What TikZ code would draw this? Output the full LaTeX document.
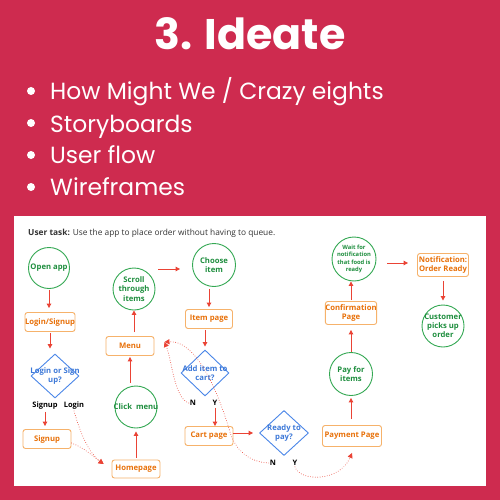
\documentclass[tikz,border=0pt]{standalone}
\usepackage{fontspec}
\setmainfont{Open Sans}
\newfontfamily\poppins{Poppins}
\usetikzlibrary{shapes.geometric,arrows.meta}

\definecolor{crimson}{HTML}{CE2B4F}
\definecolor{gborder}{HTML}{34A853}
\definecolor{gtext}{HTML}{1E8E3E}
\definecolor{oborder}{HTML}{F6B26B}
\definecolor{otext}{HTML}{E8710A}
\definecolor{bborder}{HTML}{4A86E8}
\definecolor{btext}{HTML}{3C78D8}
\definecolor{redline}{HTML}{EA4335}

\newcommand\flowfont{\bfseries\fontsize{7.7}{9.2}\selectfont}
\newcommand\smallflowfont{\bfseries\fontsize{5.8}{7.6}\selectfont}
\newcommand\tagfont{\bfseries\fontsize{7.5}{8}\selectfont}

\tikzset{
  circnode/.style={circle, draw=gborder, line width=0.9pt, inner sep=0pt},
  ctext/.style={text=gtext, font=\flowfont, align=center, inner sep=0pt},
  boxnode/.style={rectangle, rounded corners=2.5pt, draw=oborder, line width=0.9pt,
    text=otext, font=\flowfont, align=center, inner sep=0pt},
  dianode/.style={diamond, draw=bborder, line width=0.9pt, inner sep=0pt},
  dtext/.style={text=btext, font=\flowfont, align=center, inner sep=0pt},
  yn/.style={font=\tagfont, text=black, inner sep=1pt},
  arr/.style={draw=redline, line width=1pt, -{Triangle[length=4.5pt,width=4.5pt]}},
  dots/.style={draw=redline, line width=0.9pt, dash pattern=on 0.01pt off 2.4pt,
    line cap=round, -{Triangle[length=5pt,width=5pt]}},
  bullet/.style={circle, fill=white, minimum size=8pt, inner sep=0pt},
  bullettext/.style={anchor=base west, text=white, inner sep=0pt,
    font=\poppins\fontsize{23.4}{24}\selectfont}
}

\begin{document}
\begin{tikzpicture}[x=1pt,y=-1pt]
  % slide background
  \fill[crimson] (0,0) rectangle (500,500);
  \useasboundingbox (0,0) rectangle (500,500);

  % heading and bullet list
  \node[anchor=base, text=white, inner sep=0pt,
        font=\poppins\bfseries\fontsize{42.8}{43}\selectfont] (title) at (250,50) {3. Ideate};
  \node[bullet] (b1) at (31,91) {};
  \node[bullet] (b2) at (31,123) {};
  \node[bullet] (b3) at (31,155) {};
  \node[bullet] (b4) at (31,187) {};
  \node[bullettext] (t1) at (50,100) {How Might We / Crazy eights};
  \node[bullettext] (t2) at (50,132) {Storyboards};
  \node[bullettext] (t3) at (50,163) {User flow};
  \node[bullettext] (t4) at (50,195) {Wireframes};

  % user flow panel
  \fill[white] (14,216) rectangle (486,486);
  \node[anchor=base west, inner sep=0pt, text=black!80,
        font=\fontsize{8.35}{9}\selectfont] (task) at (28,235)
        {\textbf{User task:} Use the app to place order without having to queue.};

  % flow nodes
  \node[circnode, minimum size=41pt, label={[ctext]center:Open app}] (open) at (49,268) {};
  \node[boxnode, minimum width=47pt, minimum height=19pt] (login) at (50,322) {Login/Signup};
  \node[dianode, minimum width=48pt, minimum height=44pt,
        label={[dtext]center:Login or Sign\\up?}] (q1) at (55,376) {};
  \node[yn] (tsignup) at (45,406) {Signup};
  \node[yn] (tlogin) at (74,406) {Login};
  \node[boxnode, minimum width=48pt, minimum height=19pt] (signup) at (47,439) {Signup};
  \node[boxnode, minimum width=48pt, minimum height=18pt] (home) at (136,469) {Homepage};
  \node[circnode, minimum size=42pt, label={[ctext]center:Click\ \ menu}] (click) at (136,407) {};
  \node[boxnode, minimum width=48pt, minimum height=19pt] (menu) at (130,346) {Menu};
  \node[circnode, minimum size=42pt, label={[ctext]center:Scroll\\through\\items}] (scroll) at (134,289) {};
  \node[circnode, minimum size=43pt, label={[ctext]center:Choose\\item}] (choose) at (214,265) {};
  \node[boxnode, minimum width=47pt, minimum height=19pt] (item) at (209,319) {Item page};
  \node[dianode, minimum width=48pt, minimum height=46pt,
        label={[dtext]center:Add item to\\cart?}] (q2) at (205,373) {};
  \node[yn] (n2) at (193,403) {N};
  \node[yn] (y2) at (215,403) {Y};
  \node[boxnode, minimum width=48pt, minimum height=19pt] (cart) at (209,436) {Cart page};
  \node[dianode, minimum width=49pt, minimum height=45pt,
        label={[dtext]center:Ready to\\pay?}] (q3) at (284,433) {};
  \node[yn] (n3) at (273,463) {N};
  \node[yn] (y3) at (295,463) {Y};
  \node[boxnode, minimum width=59pt, minimum height=21pt] (pay) at (352,436) {Payment Page};
  \node[circnode, minimum size=43pt, label={[ctext]center:Pay for\\items}] (payc) at (351,374) {};
  \node[boxnode, minimum width=51pt, minimum height=23pt] (conf) at (351,313) {Confirmation\\Page};
  \node[circnode, minimum size=44pt,
        label={[ctext, font=\smallflowfont]center:Wait for\\notification\\that food is\\ready}] (wait) at (354,259) {};
  \node[boxnode, minimum width=51pt, minimum height=23pt] (notif) at (443,265) {Notification:\\Order Ready};
  \node[circnode, minimum size=42pt, label={[ctext]center:Customer\\picks up\\order}] (cust) at (443,326) {};

  % solid connectors
  \draw[arr, shorten <=1pt, shorten >=4pt] (open) -- (open |- login.north);
  \draw[arr, shorten <=1pt, shorten >=5pt] (login) -- (login |- q1.north);
  \draw[arr, shorten <=1pt, shorten >=3pt] (tsignup) -- (tsignup |- signup.north);
  \draw[arr, shorten <=2pt, shorten >=3pt] (home) -- (home |- click.south);
  \draw[arr, shorten <=3pt, shorten >=1pt] (menu |- click.north) -- (menu);
  \draw[arr, shorten <=4pt] (scroll |- menu.north) -- (scroll);
  \draw[arr, shorten <=3pt, shorten >=12pt] ([yshift=-4pt]scroll.east |- choose.west) -- ([yshift=-4pt]choose.west);
  \draw[arr, shorten <=2pt, shorten >=2pt] (item |- choose.south) -- (item);
  \draw[arr, shorten <=1pt, shorten >=3pt] (q2 |- item.south) -- (q2);
  \draw[arr, shorten <=1pt] (y2) -- (y2 |- cart.north);
  \draw[arr, shorten >=6pt] (cart.east |- q3) -- (q3);
  \draw[arr, shorten <=6pt, shorten >=2pt] (payc |- pay.north) -- (payc);
  \draw[arr, shorten >=5pt] (payc) -- (payc |- conf.south);
  \draw[arr, shorten <=1pt] (conf) -- (conf |- wait.south);
  \draw[arr, shorten <=11pt, shorten >=9pt] ([yshift=2pt]wait.east |- notif.west) -- ([yshift=2pt]notif.west);
  \draw[arr, shorten <=4pt, shorten >=4pt] (notif) -- (cust);

  % dotted "go to" connectors
  \coordinate (homein) at ([shift={(-8,-5)}]home.west);
  \coordinate (menuin) at ([shift={(10,-4)}]menu.east);
  \coordinate (payin) at ([shift={(0,6)}]pay.south);
  \draw[dots] (tlogin.south) .. controls (80,432) and (88,452) .. (homein);
  \draw[dots] ([yshift=-4pt]signup.east) .. controls (85,448) and (95,458) .. (homein);
  \draw[dots] (n2.west) .. controls (174,398) and (172,360) .. (menuin);
  \draw[dots] (n3.west) .. controls (248,462) and (235,449) .. (230,432)
              .. controls (222,405) and (200,340) .. (menuin);
  \draw[dots] (y3.south) .. controls (300,482) and (340,482) .. (payin);
\end{tikzpicture}
\end{document}
